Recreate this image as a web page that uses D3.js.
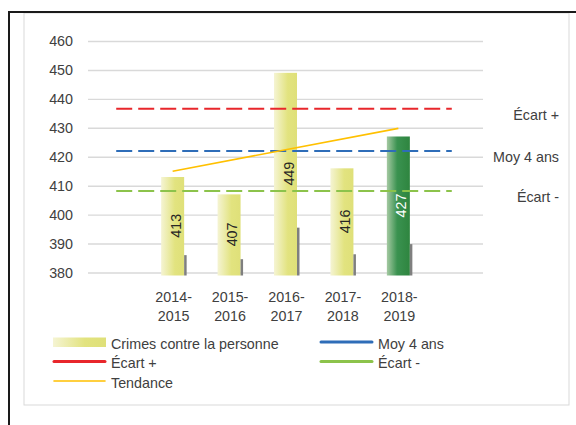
<!DOCTYPE html>
<html>
<head>
<meta charset="utf-8">
<script src="https://cdn.jsdelivr.net/npm/d3@7"></script>
<style>
  body { margin: 0; background: #fff; }
  text { font-family: "Liberation Sans", Arial, sans-serif; fill: #404040; }
</style>
</head>
<body>
<div id="chart"></div>
<script>
// Data.
const periods = ["2014-2015", "2015-2016", "2016-2017", "2017-2018", "2018-2019"];
const crimes = [413, 407, 449, 416, 427];
const ombre = [386, 384.6, 395.5, 386.3, 389.8]; // thin grey bars beside each column
const refNames = ["Écart +", "Moy 4 ans", "Écart -"];
const refValues = [436.6, 422, 408.2];
const trendValues = [415, 429.8]; // first and last period
const yTicks = [380, 390, 400, 410, 420, 430, 440, 450, 460];

const width = 576, height = 425;
const plot = { left: 88, right: 483, top: 41, bottom: 272.5 };
const fontSize = "14.3px";

const svg = d3.select("#chart").append("svg")
  .attr("width", width)
  .attr("height", height);

const defs = svg.append("defs");
function gradient(id, stops) {
  const g = defs.append("linearGradient").attr("id", id)
    .attr("x1", "0%").attr("x2", "100%").attr("y1", "0%").attr("y2", "0%");
  stops.forEach(s => g.append("stop").attr("offset", s[0]).attr("stop-color", s[1]));
}
gradient("gYellow", [["0%", "#f5f4d3"], ["60%", "#e2e37f"], ["100%", "#dfe079"]]);
gradient("gGreen", [["0%", "#a5c9a2"], ["45%", "#3a9250"], ["100%", "#2e853f"]]);

// Frame: black corner lines and grey chart box.
svg.append("rect")
  .attr("x", 24).attr("y", 13).attr("width", 545).attr("height", 392)
  .attr("fill", "none").attr("stroke", "#d9d9d9").attr("stroke-width", 1);
svg.append("line").attr("x1", 8).attr("x2", width).attr("y1", 12).attr("y2", 12)
  .attr("stroke", "#1a1a1a").attr("stroke-width", 2);
svg.append("line").attr("x1", 9).attr("x2", 9).attr("y1", 11).attr("y2", height)
  .attr("stroke", "#1a1a1a").attr("stroke-width", 2);

// Scales: an empty slot at each end, as in the original.
const x = d3.scaleBand()
  .domain(["_a", ...periods, "_b"])
  .range([plot.left, plot.right]);
const y = d3.scaleLinear().domain([380, 460]).range([plot.bottom, plot.top]);
const cx = d => x(d) + x.bandwidth() / 2;
const barW = 23;

// Gridlines and y labels.
const yAxis = svg.append("g")
  .attr("transform", `translate(${plot.left},0)`)
  .call(d3.axisLeft(y).tickValues(yTicks).tickSize(-(plot.right - plot.left)).tickPadding(15));
yAxis.select(".domain").remove();
yAxis.selectAll(".tick line").attr("stroke", "#d9d9d9").attr("stroke-width", 1.4);
yAxis.selectAll(".tick text")
  .attr("fill", "#404040")
  .style("font-size", fontSize)
  .style("font-family", "'Liberation Sans', Arial, sans-serif");

// Columns.
svg.append("g").selectAll("rect")
  .data(periods)
  .join("rect")
  .attr("x", d => cx(d) - barW / 2)
  .attr("y", (d, i) => y(crimes[i]))
  .attr("width", barW)
  .attr("height", (d, i) => y(380) - y(crimes[i]) + 3)
  .attr("fill", (d, i) => i === periods.length - 1 ? "url(#gGreen)" : "url(#gYellow)");

svg.append("g").selectAll("rect")
  .data(periods)
  .join("rect")
  .attr("x", d => cx(d) + barW / 2)
  .attr("y", (d, i) => y(ombre[i]))
  .attr("width", 2.5)
  .attr("height", (d, i) => y(380) - y(ombre[i]) + 3)
  .attr("fill", "#7f7f7f");

// Reference lines.
const refColors = ["#e8262b", "#2e6db8", "#8cc34b"];
svg.append("g").selectAll("line")
  .data(refValues)
  .join("line")
  .attr("x1", cx("_a"))
  .attr("x2", cx("_b") - 3)
  .attr("y1", d => y(d))
  .attr("y2", d => y(d))
  .attr("stroke", (d, i) => refColors[i])
  .attr("stroke-width", 2)
  .attr("stroke-dasharray", "16,6");

svg.append("g").selectAll("text")
  .data(refValues)
  .join("text")
  .attr("x", 559)
  .attr("y", d => y(d) + 11.5)
  .attr("text-anchor", "end")
  .style("font-size", fontSize)
  .text((d, i) => refNames[i]);

// Trend line.
svg.append("line")
  .attr("x1", cx(periods[0]))
  .attr("x2", cx(periods[periods.length - 1]))
  .attr("y1", y(trendValues[0]))
  .attr("y2", y(trendValues[1]))
  .attr("stroke", "#ffc000")
  .attr("stroke-width", 1.6);

// Value labels inside the columns.
svg.append("g").selectAll("text")
  .data(periods)
  .join("text")
  .attr("transform", (d, i) => `translate(${cx(d) + 8},${(y(crimes[i]) + y(380)) / 2 + 1}) rotate(-90)`)
  .attr("text-anchor", "middle")
  .style("font-size", fontSize)
  .style("fill", (d, i) => i === periods.length - 1 ? "#ffffff" : "#262626")
  .text((d, i) => crimes[i]);

// Category labels on two lines.
const xl = svg.append("g").selectAll("text")
  .data(periods)
  .join("text")
  .attr("text-anchor", "middle")
  .style("font-size", fontSize);
xl.append("tspan").attr("x", d => cx(d) + 1).attr("y", y(380) + 29).text(d => d.slice(0, 5));
xl.append("tspan").attr("x", d => cx(d) + 1).attr("y", y(380) + 48).text(d => d.slice(5));

// Legend.
const legendItems = [
  { name: "Crimes contre la personne", type: "bar", col: 0, row: 0 },
  { name: "Moy 4 ans", type: "line", color: refColors[1], w: 3, col: 1, row: 0 },
  { name: "Écart +", type: "line", color: refColors[0], w: 3, col: 0, row: 1 },
  { name: "Écart -", type: "line", color: refColors[2], w: 3, col: 1, row: 1 },
  { name: "Tendance", type: "line", color: "#ffc000", w: 1.6, col: 0, row: 2 }
];
const lg = svg.append("g").selectAll("g")
  .data(legendItems)
  .join("g")
  .attr("transform", d => `translate(${d.col ? 320 : 53},${342 + d.row * 19.5})`);
lg.filter(d => d.type === "bar").append("rect")
  .attr("x", 0).attr("y", -4.5).attr("width", 53).attr("height", 9.5)
  .attr("fill", "url(#gYellow)");
lg.filter(d => d.type === "line").append("line")
  .attr("x1", 1).attr("x2", 52).attr("y1", 0).attr("y2", 0)
  .attr("stroke", d => d.color)
  .attr("stroke-width", d => d.w)
  .attr("stroke-linecap", "round");
lg.append("text")
  .attr("x", 58).attr("y", 6.5)
  .style("font-size", fontSize)
  .text(d => d.name);
</script>
</body>
</html>
